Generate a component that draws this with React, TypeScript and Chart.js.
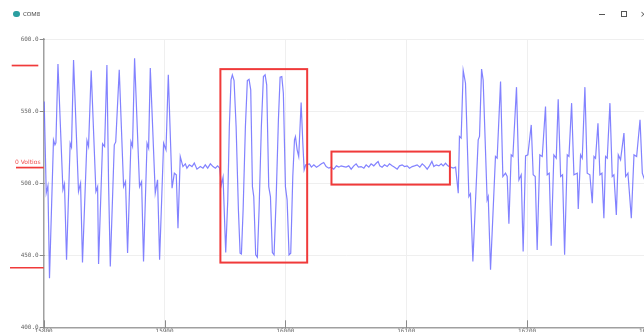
import React, { useEffect, useRef } from "react";
import { Chart, registerables } from "chart.js";

Chart.register(...registerables);

// ---- data (sample index / reading) ----
const sampleIdx: number[] = [
  // first burst
  15800.4, 15802.1, 15803.5, 15804.8, 15808.1, 15809.3, 15810.1, 15811.8, 15815.9, 15817.2,
  15818.9, 15821.9, 15823.0, 15824.7, 15828.8, 15830.5, 15832.1, 15835.8, 15837.1, 15839.3,
  15843.2, 15844.6, 15845.4, 15848.7, 15850.4, 15852.3, 15853.7, 15855.1, 15858.4, 15859.6,
  15862.5, 15866.1, 15867.7, 15869.4, 15872.2, 15873.5, 15875.2, 15879.3, 15881.0, 15882.6,
  15885.5, 15886.8, 15888.2, 15892.3, 15894.2, 15895.9, 15899.2, 15901.2, 15903.1, 15906.2,
  15908.1, 15909.7, 15911.1, 15913.0,
  // quiet
  15915.2, 15917.2, 15918.5, 15920.5, 15922.7, 15924.6, 15926.8, 15929.6, 15931.8, 15933.7,
  15935.7, 15937.9, 15940.1, 15942.0, 15943.9,
  // sine burst
  15945.6, 15947.0, 15948.4, 15950.6, 15952.3, 15953.6, 15955.0, 15956.1, 15957.5, 15959.2,
  15961.1, 15962.5, 15963.6, 15965.0, 15966.9, 15968.5, 15969.9, 15971.3, 15972.7, 15973.8,
  15975.4, 15976.8, 15978.2, 15980.1, 15981.8, 15983.2, 15984.5, 15986.2, 15987.6, 15989.2,
  15990.6, 15992.3, 15994.2, 15995.6, 15997.0, 15998.3, 16000.0, 16001.4, 16003.0, 16004.4,
  16006.1, 16007.5, 16008.3, 16009.7, 16011.0, 16013.0, 16014.4, 16015.5, 16016.8,
  // quiet
  16019.9, 16021.5, 16023.5, 16025.7, 16027.6, 16029.8, 16031.7, 16033.7, 16035.9, 16037.8,
  16040.0, 16042.2, 16044.2, 16046.1, 16048.3, 16050.2, 16052.4, 16054.4, 16056.6, 16058.5,
  16060.4, 16062.7, 16064.9, 16066.8, 16069.0, 16070.9, 16073.1, 16075.1, 16076.7, 16078.1,
  16080.0, 16082.0, 16084.2, 16086.1, 16088.3, 16090.3, 16092.5, 16094.4, 16096.6, 16098.5,
  16100.7, 16102.7, 16104.9, 16106.8, 16109.0, 16111.2, 16113.2, 16115.1, 16117.3, 16119.2,
  16121.2, 16122.8, 16124.8, 16127.0, 16128.9, 16130.5, 16132.5, 16134.4, 16136.6, 16138.8,
  16140.8,
  // last burst
  16143.0, 16144.0, 16145.4, 16147.1, 16149.0, 16151.8, 16153.1, 16155.1, 16159.5, 16160.6,
  16162.3, 16163.6, 16166.9, 16167.8, 16169.7, 16173.8, 16175.2, 16178.0, 16179.9, 16182.1,
  16183.5, 16184.9, 16186.8, 16188.2, 16191.2, 16193.2, 16195.1, 16196.7, 16198.7, 16200.6,
  16203.4, 16205.0, 16206.7, 16208.3, 16210.5, 16212.5, 16215.2, 16216.6, 16218.3, 16219.9,
  16222.1, 16224.1, 16225.7, 16227.7, 16229.3, 16231.0, 16233.2, 16234.6, 16236.8, 16238.7,
  16241.5, 16242.3, 16244.2, 16245.6, 16247.8, 16249.7, 16251.9, 16253.9, 16255.3, 16256.6,
  16258.6, 16260.2, 16261.9, 16263.5, 16264.9, 16266.3, 16268.5, 16270.4, 16271.8, 16273.8,
  16275.4, 16277.3, 16280.1, 16281.5, 16283.4, 16286.2, 16288.4, 16290.6, 16293.4, 16295.3,
  16297.2,
];

const signalValues: number[] = [
  // first burst
  556.6, 493.1, 498.1, 434.1, 530.0, 526.6, 528.0, 582.7, 495.4, 499.5,
  446.8, 527.7, 525.0, 585.5, 494.2, 500.0, 444.9, 529.5, 525.4, 578.1,
  494.2, 497.6, 444.0, 527.3, 525.4, 582.0, 498.8, 442.2, 526.6, 528.6,
  578.6, 497.6, 501.1, 451.5, 528.8, 525.4, 586.7, 497.6, 501.1, 445.6,
  527.7, 524.3, 579.8, 493.1, 502.3, 446.8, 527.7, 523.1, 575.1, 496.5,
  506.9, 505.8, 468.8, 518.4,
  // quiet
  511.5, 513.4, 510.4, 512.7, 511.5, 513.9, 509.7, 511.5, 510.4, 512.7,
  510.4, 513.4, 511.5, 510.4, 512.0,
  // sine burst
  510.4, 498.8, 504.1, 451.9, 488.4, 539.3, 571.6, 575.1, 571.2, 539.3,
  481.5, 451.4, 450.9, 481.5, 539.3, 571.2, 572.1, 564.7, 497.6, 490.7,
  450.3, 448.6, 481.5, 539.3, 573.9, 575.1, 568.2, 497.6, 490.7, 451.9,
  450.3, 488.4, 543.9, 573.5, 573.9, 562.4, 497.6, 488.4, 450.3, 451.4,
  504.6, 530.0, 532.3, 523.1, 518.5, 555.9, 527.7, 509.2, 512.7,
  // quiet
  513.4, 511.1, 512.7, 511.1, 512.0, 513.4, 514.3, 511.5, 510.4, 511.1,
  509.7, 512.0, 511.1, 512.0, 511.5, 511.1, 512.0, 509.7, 512.0, 513.4,
  511.1, 511.5, 510.4, 512.7, 511.1, 513.4, 512.0, 513.8, 515.0, 512.0,
  511.1, 512.7, 511.5, 513.4, 512.0, 511.1, 509.7, 512.0, 512.7, 511.5,
  512.0, 510.4, 511.5, 512.0, 512.7, 511.1, 513.4, 512.0, 509.7, 512.0,
  515.0, 511.5, 512.7, 512.0, 513.4, 512.0, 513.8, 512.0, 511.1, 510.4,
  511.1,
  // last burst
  493.0, 532.4, 531.2, 578.1, 569.3, 490.7, 492.6, 445.7, 530.0, 532.4,
  579.1, 571.7, 488.4, 490.7, 439.9, 518.5, 517.3, 570.5, 504.6, 506.9,
  504.6, 471.8, 519.6, 518.5, 566.6, 502.3, 505.8, 452.6, 518.9, 519.6,
  540.4, 505.8, 504.6, 453.7, 519.6, 518.5, 553.2, 505.8, 506.9, 456.5,
  519.6, 517.3, 558.2, 504.6, 505.8, 450.3, 519.6, 518.5, 555.5, 505.8,
  506.9, 482.0, 519.6, 517.3, 566.6, 506.9, 505.8, 486.1, 518.5, 517.3,
  541.6, 505.8, 506.9, 475.7, 518.5, 517.3, 555.5, 504.6, 505.8, 478.0,
  519.6, 516.2, 534.7, 504.6, 506.9, 475.7, 519.6, 518.5, 543.9, 506.9,
  502.3,
];

const xTicks: number[] = [15800, 15900, 16000, 16100, 16200, 16300];
const yTicks: number[] = [400, 450, 500, 550, 600];

// red hand-drawn annotations (data units)
const refLevels: number[] = [581.6, 510.8, 441.3];
const refLabel = "0 Voltios";
const boxStart: number[] = [15946.2, 16038.1];
const boxEnd: number[] = [16018.0, 16136.1];
const boxLow: number[] = [444.9, 499.0];
const boxHigh: number[] = [579.1, 521.9];

const RED = "#f03a3a";

const overlay = {
  id: "overlay",
  afterDraw(chart: any) {
    const ctx = chart.ctx as CanvasRenderingContext2D;
    const { left, bottom } = chart.chartArea;
    const xs = chart.scales.x;
    const ys = chart.scales.y;
    ctx.save();
    // tick marks
    ctx.strokeStyle = "#8a8a8a";
    ctx.lineWidth = 1;
    xTicks.forEach((v) => {
      const px = Math.round(xs.getPixelForValue(v)) + 0.5;
      ctx.beginPath();
      ctx.moveTo(px, bottom - 7);
      ctx.lineTo(px, bottom + 1);
      ctx.stroke();
    });
    yTicks.forEach((v) => {
      const py = Math.round(ys.getPixelForValue(v)) + 0.5;
      ctx.beginPath();
      ctx.moveTo(left - 4, py);
      ctx.lineTo(left + 1, py);
      ctx.stroke();
    });
    // boxes
    ctx.strokeStyle = RED;
    ctx.lineWidth = 2;
    for (let i = 0; i < boxStart.length; i++) {
      const x0 = xs.getPixelForValue(boxStart[i]);
      const x1 = xs.getPixelForValue(boxEnd[i]);
      const y0 = ys.getPixelForValue(boxHigh[i]);
      const y1 = ys.getPixelForValue(boxLow[i]);
      ctx.strokeRect(x0, y0, x1 - x0, y1 - y0);
    }
    // left level marks
    const spans = [
      [11.7, 38.3],
      [16, left],
      [10, left],
    ];
    ctx.lineWidth = 1.7;
    refLevels.forEach((lv, i) => {
      const py = ys.getPixelForValue(lv);
      ctx.beginPath();
      ctx.moveTo(spans[i][0], py);
      ctx.lineTo(spans[i][1], py);
      ctx.stroke();
    });
    // label
    ctx.fillStyle = "#f05050";
    ctx.font = '6px "DejaVu Sans"';
    ctx.textBaseline = "bottom";
    ctx.textAlign = "left";
    ctx.fillText(refLabel, 15, ys.getPixelForValue(refLevels[1]) - 2);
    ctx.restore();
  },
};

export default function App() {
  const ref = useRef<HTMLCanvasElement>(null);
  useEffect(() => {
    document.body.style.margin = "0";
    document.body.style.overflow = "hidden";
    const canvas = ref.current!;
    const chart = new Chart(canvas, {
      type: "line",
      data: {
        datasets: [
          {
            data: sampleIdx.map((x, i) => ({ x, y: signalValues[i] })),
            borderColor: "rgba(95,95,255,0.78)",
            borderWidth: 1.2,
            pointRadius: 0,
            tension: 0,
            fill: false,
          },
        ],
      },
      options: {
        responsive: false,
        animation: false,
        devicePixelRatio: 1,
        layout: { padding: { top: 39, left: 0, right: 0, bottom: 0 } },
        plugins: { legend: { display: false }, tooltip: { enabled: false } },
        scales: {
          x: {
            type: "linear",
            min: 15800,
            max: 16300,
            afterBuildTicks: (s: any) => {
              s.ticks = xTicks.map((v) => ({ value: v }));
            },
            afterFit: (s: any) => {
              s.height = 17.7;
              s.paddingLeft = 0;
              s.paddingRight = 0;
            },
            grid: { color: "#efefef", drawTicks: false },
            border: { color: "#a0a0a0", width: 1.5 },
            ticks: {
              padding: 1,
              autoSkip: false,
              maxRotation: 0,
              font: { family: "DejaVu Sans Mono", size: 6 },
              color: "#666",
              callback: (v: any) => String(v),
            },
          },
          y: {
            type: "linear",
            min: 400,
            max: 600,
            afterBuildTicks: (s: any) => {
              s.ticks = yTicks.map((v) => ({ value: v }));
            },
            afterFit: (s: any) => {
              s.width = 43.7;
              s.paddingTop = 0;
              s.paddingBottom = 0;
            },
            grid: { color: "#efefef", drawTicks: false },
            border: { color: "#a0a0a0", width: 1.5 },
            ticks: {
              padding: 5,
              font: { family: "DejaVu Sans Mono", size: 6 },
              color: "#666",
              callback: (v: any) => Number(v).toFixed(1),
            },
          },
        },
      },
      plugins: [overlay],
    } as any);
    return () => chart.destroy();
  }, []);

  return (
    <div style={{ position: "fixed", left: 0, top: 0, width: 648, height: 345, background: "#fff", overflow: "hidden" }}>
      <canvas ref={ref} width={648} height={345} style={{ position: "absolute", left: 0, top: 0, width: 648, height: 345 }} />
      <div style={{ position: "absolute", left: 13, top: 11, width: 7, height: 6, borderRadius: 3, background: "#2a9ea0" }} />
      <div style={{ position: "absolute", left: 23, top: 10, fontFamily: "Noto Sans", fontSize: 6, color: "#444", lineHeight: "8px" }}>COM8</div>
      <div style={{ position: "absolute", left: 599, top: 14, width: 6, height: 1, background: "#555" }} />
      <div style={{ position: "absolute", left: 621, top: 11, width: 4, height: 4, border: "1px solid #555" }} />
      <div style={{ position: "absolute", left: 640, top: 8, fontFamily: "DejaVu Sans", fontSize: 9, color: "#555", lineHeight: "12px" }}>×</div>
    </div>
  );
}
